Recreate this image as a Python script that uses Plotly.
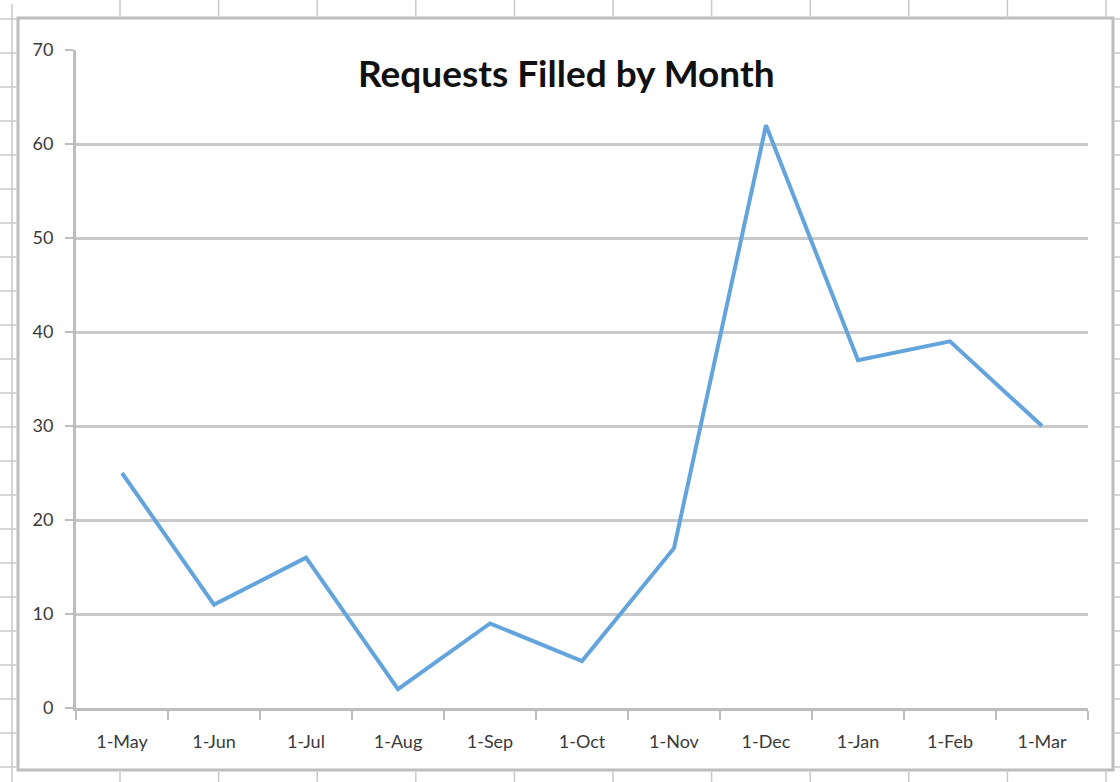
import plotly.graph_objects as go

months = ["1-May", "1-Jun", "1-Jul", "1-Aug", "1-Sep", "1-Oct",
          "1-Nov", "1-Dec", "1-Jan", "1-Feb", "1-Mar"]
requests = [25, 11, 16, 2, 9, 5, 17, 62, 37, 39, 30]
y_ticks = [0, 10, 20, 30, 40, 50, 60, 70]
title_text = "Requests Filled by Month"

W, H = 1120, 782
L, R, T, B = 76, 32, 50, 74
PW, PH = W - L - R, H - T - B


def px(x):
    return (x - L) / PW


def py(y):
    return 1 - (y - T) / PH


fig = go.Figure()
fig.add_trace(go.Scatter(
    x=months, y=requests, mode="lines",
    line=dict(color="#64A4DC", width=4),
    hoverinfo="x+y", showlegend=False,
))

shapes = []
grid_col = "#C9C9C9"
# spreadsheet background lines
cols = [120 + 98.6 * i for i in range(11)]
for cx in cols:
    shapes.append(dict(type="line", xref="paper", yref="paper",
                       x0=px(cx), x1=px(cx), y0=py(0), y1=py(18),
                       line=dict(color=grid_col, width=1.5)))
    shapes.append(dict(type="line", xref="paper", yref="paper",
                       x0=px(cx), x1=px(cx), y0=py(770), y1=py(782),
                       line=dict(color=grid_col, width=1.5)))
rows = [19 + 34 * i for i in range(23)]
for ry in rows:
    shapes.append(dict(type="line", xref="paper", yref="paper",
                       x0=px(0), x1=px(18), y0=py(ry), y1=py(ry),
                       line=dict(color=grid_col, width=1.5)))
    shapes.append(dict(type="line", xref="paper", yref="paper",
                       x0=px(1113), x1=px(1120), y0=py(ry), y1=py(ry),
                       line=dict(color=grid_col, width=1.5)))
shapes.append(dict(type="line", xref="paper", yref="paper",
                   x0=px(12), x1=px(12), y0=py(4), y1=py(782),
                   line=dict(color=grid_col, width=1.5)))
# chart frame
shapes.append(dict(type="rect", xref="paper", yref="paper",
                   x0=px(18), x1=px(1113), y0=py(770), y1=py(18),
                   line=dict(color="#BDBDBD", width=3),
                   fillcolor="rgba(0,0,0,0)", layer="below"))

fig.update_layout(
    width=W, height=H,
    margin=dict(l=L, r=R, t=T, b=B, pad=0),
    paper_bgcolor="white", plot_bgcolor="white",
    shapes=shapes,
    font=dict(family="Lato, Open Sans, sans-serif", color="#333333", size=18),
    annotations=[dict(text="<b>" + title_text + "</b>", xref="paper", yref="paper",
                      x=px(566), y=py(73), xanchor="center", yanchor="middle",
                      showarrow=False,
                      font=dict(family="Lato, Open Sans, sans-serif", size=37,
                                color="#111111"))],
    xaxis=dict(
        type="category", tickson="boundaries", ticks="outside", ticklen=9,
        tickwidth=2, tickcolor="#BDBDBD",
        showline=True, linecolor="#BDBDBD", linewidth=3,
        showgrid=False, range=[-0.5, len(months) - 0.5],
        tickfont=dict(size=18, color="#3A3A3A"),
        ticklabelstandoff=15,
    ),
    yaxis=dict(
        range=[0, 70], tickvals=y_ticks, ticks="outside", ticklen=8,
        tickwidth=2, tickcolor="#BDBDBD",
        showline=True, linecolor="#BDBDBD", linewidth=3,
        showgrid=True, gridcolor="#C9C9C9", gridwidth=3,
        zeroline=False, tickfont=dict(size=18, color="#3A3A3A"),
        ticklabelstandoff=8,
    ),
)

fig.write_html("out.html", config={"displayModeBar": False},
               post_script="document.body.style.margin='0px';document.body.style.overflow='hidden';")
